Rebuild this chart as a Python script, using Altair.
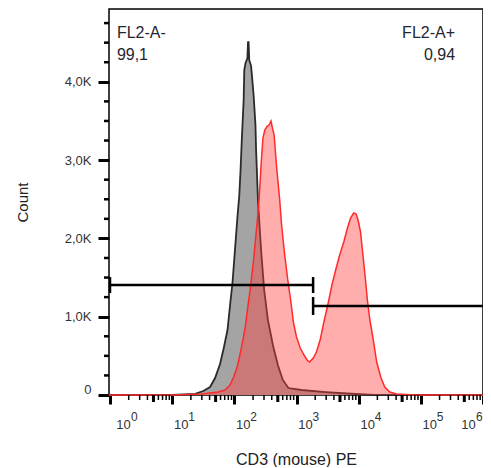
import json
import altair as alt
import pandas as pd

# ---- data (log10 of CD3 PE intensity, event count) ----
gray_log10 = [-0.02, 1.0, 1.37, 1.50, 1.61, 1.69, 1.77, 1.83, 1.89, 1.94, 1.97, 2.01, 2.05,
              2.08, 2.10, 2.12, 2.15, 2.16, 2.18, 2.21, 2.22, 2.23, 2.24, 2.27, 2.31, 2.34,
              2.35, 2.38, 2.43, 2.48, 2.54, 2.62, 2.70, 2.78, 2.87, 3.08, 3.47, 3.95, 4.26, 6.0]
gray_count = [0, 0, 15, 51, 102, 217, 396, 600, 830, 1213, 1430, 1852, 2273,
              2554, 2873, 3256, 3767, 4150, 4240, 4300, 4508, 4508, 4278, 4201, 3831, 3448,
              3129, 2490, 1852, 1341, 958, 639, 383, 192, 89, 64, 38, 13, 0, 0]

red_log10 = [-0.02, 1.0, 1.47, 1.61, 1.74, 1.85, 1.93, 1.99, 2.05, 2.10, 2.15, 2.18, 2.21,
             2.26, 2.31, 2.34, 2.37, 2.40, 2.43, 2.46, 2.49, 2.53, 2.56, 2.59, 2.61, 2.64,
             2.68, 2.73, 2.76, 2.81, 2.86, 2.91, 2.95, 3.00, 3.06, 3.13, 3.17, 3.21, 3.24,
             3.27, 3.32, 3.38, 3.44, 3.51, 3.57, 3.63, 3.69, 3.76, 3.82, 3.87, 3.92, 3.96,
             3.99, 4.03, 4.06, 4.11, 4.14, 4.18, 4.23, 4.29, 4.36, 4.42, 4.50, 4.61, 4.89, 6.0]
red_count = [0, 0, 13, 26, 38, 64, 128, 230, 370, 549, 753, 894, 1085,
             1379, 1724, 1979, 2235, 2516, 2937, 3282, 3384, 3435, 3448, 3499, 3422, 3320,
             2912, 2490, 2171, 1788, 1469, 1188, 932, 741, 600, 498, 447, 421, 447,
             472, 549, 702, 932, 1175, 1405, 1596, 1775, 1954, 2133, 2260, 2324, 2311,
             2235, 2082, 1852, 1469, 1213, 958, 728, 421, 217, 102, 38, 13, 0, 0]

# gates
gate_names = ["FL2-A-", "FL2-A+"]
gate_pct = ["99,1", "0,94"]
gate_lo = [1.0, 1850]
gate_hi = [1850, 1000000]
gate_count = [1405, 1137]
gate_bar_half = [102, 115]

# axes
x_domain = [0.9636, 1000000]
y_domain = [0, 4930]
x_major = [1, 10, 100, 1000, 10000, 100000, 1000000]
x_major_base = "10"
x_major_exp = ["0", "1", "2", "3", "4", "5", "6"]
x_mid = [5, 50, 500, 5000, 50000, 500000]
x_minor = [k * 10 ** n for n in range(6) for k in (2, 3, 4, 6, 7, 8, 9)]
y_major = [0, 1000, 2000, 3000, 4000]
y_major_labels = ["0", "1,0K", "2,0K", "3,0K", "4,0K"]
y_minor = [v for v in range(250, 5000, 250) if v % 1000 != 0]

FONT = "Liberation Sans"
W, H = 374, 386

gray_df = pd.DataFrame({"pe": [10 ** v for v in gray_log10], "count": gray_count})
red_df = pd.DataFrame({"pe": [10 ** v for v in red_log10], "count": red_count})

x_scale = alt.Scale(type="log", domain=x_domain, nice=False)
y_scale = alt.Scale(domain=y_domain, nice=False, zero=False)

x_axis = alt.Axis(
    values=x_major,
    labelExpr=json.dumps(x_major_base),
    tickSize=9, tickWidth=3, tickColor="black", domain=False, grid=False,
    labelFont=FONT, labelFontSize=13, labelColor="#333333", labelPadding=14,
    labelFlush=False, labelOverlap=False, labelAlign="center",
    labelOffset={"condition": [{"test": "datum.value < 2", "value": 13},
                               {"test": "datum.value > 500000", "value": -15}],
                 "value": 8.5},
    title="CD3 (mouse) PE", titleFont=FONT, titleFontSize=16, titleFontWeight="normal",
    titleColor="#222222", titleBaseline="alphabetic", titleY=69,
)
y_axis = alt.Axis(
    values=y_major,
    labelExpr=json.dumps(y_major_labels) + "[round(datum.value/1000)]",
    tickSize=11, tickWidth=3, tickColor="black", domain=False, grid=False,
    labelFont=FONT, labelFontSize=13, labelColor="#333333", labelPadding=7,
    labelFlush=False, labelOverlap=False,
    labelOffset={"condition": {"test": "datum.value == 0", "value": -6}, "value": 0},
    title="Count", titleFont=FONT, titleFontSize=15, titleFontWeight="normal",
    titleColor="#222222", titlePadding=34,
)

X = alt.X("pe:Q", scale=x_scale, axis=x_axis)
Y = alt.Y("count:Q", scale=y_scale, axis=y_axis)

gray = alt.Chart(gray_df).mark_area(
    color="#a4a4a4", opacity=1, line={"color": "#2a2a2a", "strokeWidth": 1.8}
).encode(x=X, y=Y)

red = alt.Chart(red_df).mark_area(
    color="#ff3b3b", fillOpacity=0.42, line={"color": "#ff2a2a", "strokeWidth": 1.5}
).encode(x=X, y=Y)

# minor axis ticks
xminor_df = pd.DataFrame({"pe": x_minor})
xmid_df = pd.DataFrame({"pe": x_mid})
yminor_df = pd.DataFrame({"count": y_minor})

xminor = alt.Chart(xminor_df).mark_rule(color="black", strokeWidth=1.5).encode(
    x=X, y=alt.value(H), y2=alt.value(H + 5))
xmid = alt.Chart(xmid_df).mark_rule(color="black", strokeWidth=3).encode(
    x=X, y=alt.value(H), y2=alt.value(H + 7))
yminor = alt.Chart(yminor_df).mark_rule(color="black", strokeWidth=2.5).encode(
    y=Y, x=alt.value(-5), x2=alt.value(0))

# superscript exponents of the decade labels
exp_df = pd.DataFrame({"pe": x_major, "exp": x_major_exp})
sup_style = dict(align="left", baseline="alphabetic", font=FONT, fontSize=12, color="#333333")
sup_first = alt.Chart(exp_df.iloc[:1]).mark_text(dx=21, **sup_style).encode(
    x=X, y=alt.value(H + 26), text="exp:N")
sup_mid = alt.Chart(exp_df.iloc[1:-1]).mark_text(dx=16, **sup_style).encode(
    x=X, y=alt.value(H + 26), text="exp:N")
sup_last = alt.Chart(exp_df.iloc[-1:]).mark_text(dx=-7, **sup_style).encode(
    x=X, y=alt.value(H + 26), text="exp:N")

# gates
gate_df = pd.DataFrame({"pe": gate_lo, "pe2": gate_hi, "count": gate_count})
gate_lines = alt.Chart(gate_df).mark_rule(color="black", strokeWidth=2.5).encode(
    x=X, x2="pe2:Q", y=Y)

bar_df = pd.DataFrame({
    "pe": [gate_lo[0], gate_hi[0], gate_lo[1]],
    "count": [gate_count[0] - gate_bar_half[0], gate_count[0] - gate_bar_half[0],
              gate_count[1] - gate_bar_half[1]],
    "count2": [gate_count[0] + gate_bar_half[0], gate_count[0] + gate_bar_half[0],
               gate_count[1] + gate_bar_half[1]],
})
gate_bars = alt.Chart(bar_df).mark_rule(color="black", strokeWidth=2.5).encode(
    x=X, y=Y, y2="count2:Q")

# gate labels
lab_df = pd.DataFrame({
    "pe": [1.29, 1.29, 355000, 355000],
    "count": [4559, 4278, 4559, 4278],
    "text": [gate_names[0], gate_pct[0], gate_names[1], gate_pct[1]],
    "side": ["l", "l", "r", "r"],
})
lab_left = alt.Chart(lab_df[lab_df.side == "l"]).mark_text(
    align="left", baseline="alphabetic", font=FONT, fontSize=16, color="#252530"
).encode(x=X, y=Y, text="text:N")
lab_right = alt.Chart(lab_df[lab_df.side == "r"]).mark_text(
    align="right", baseline="alphabetic", font=FONT, fontSize=16, color="#252530"
).encode(x=X, y=Y, text="text:N")

chart = alt.layer(
    gray, red, xminor, xmid, yminor, sup_first, sup_mid, sup_last,
    gate_lines, gate_bars, lab_left, lab_right
).properties(
    width=W, height=H,
    autosize=alt.AutoSizeParams(type="none"),
    padding={"left": 101, "top": 1, "right": 0, "bottom": 72},
    background="white",
).configure_view(
    stroke="black", strokeWidth=1.5
)

chart.save("out.html", embed_options={"renderer": "svg", "actions": False})
